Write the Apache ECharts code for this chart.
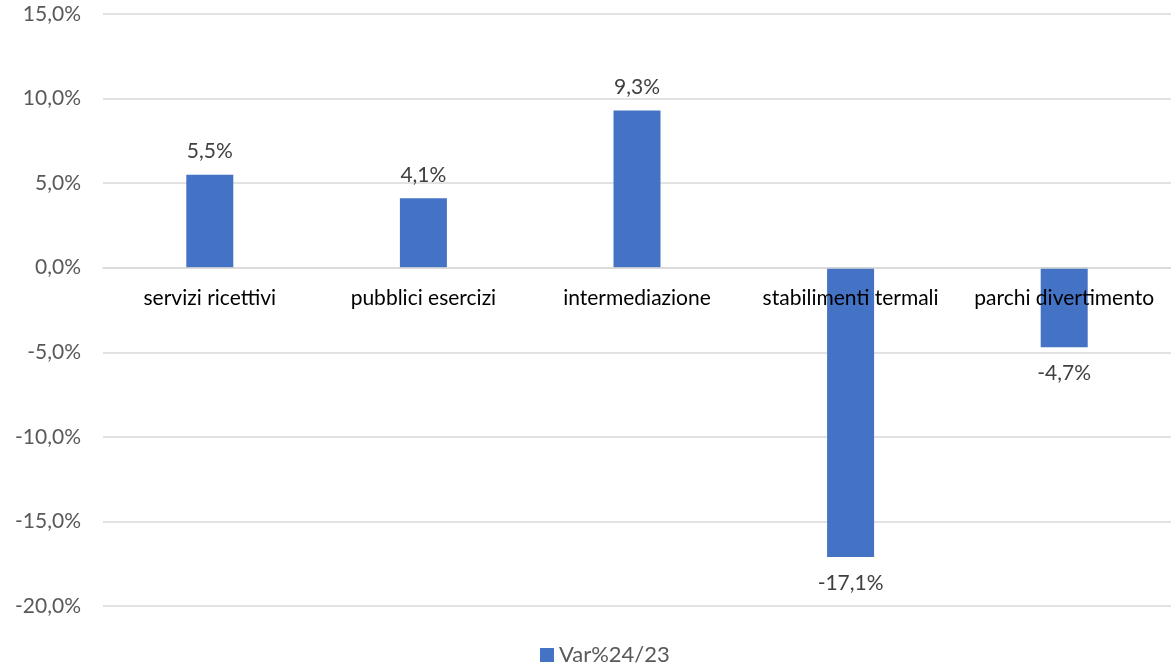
<!DOCTYPE html>
<html><head><meta charset="utf-8">
<script src="https://cdn.jsdelivr.net/npm/echarts@6/dist/echarts.min.js"></script>
<style>html,body{margin:0;padding:0;background:#fff}#c{width:1171px;height:671px}</style>
</head><body><div id="c"></div>
<script>
var categories = ['servizi ricettivi', 'pubblici esercizi', 'intermediazione', 'stabilimenti termali', 'parchi divertimento'];
var seriesName = 'Var%24/23';
var values = [5.5, 4.1, 9.3, -17.1, -4.7];
var yMin = -20, yMax = 15, yStep = 5;

function fmt(v, d) { return v.toFixed(d).replace('.', ',') + '%'; }
var FONT = 'Lato';
var FS = 21;
var chart = echarts.init(document.getElementById('c'));
chart.setOption({
  animation: false,
  textStyle: { fontFamily: FONT },
  grid: { left: 103, right: 0, top: 14, bottom: 65 },
  legend: {
    bottom: 0, left: 535, itemWidth: 14, itemHeight: 14, itemGap: 4,
    icon: 'rect',
    textStyle: { fontFamily: FONT, fontSize: 22, color: '#595959' },
    data: [seriesName]
  },
  xAxis: {
    type: 'category', data: categories, z: 5,
    axisLine: { onZero: false, lineStyle: { color: '#d9d9d9', width: 1.5 } },
    axisTick: { show: false },
    axisLabel: { fontFamily: FONT, fontSize: FS, color: '#000', margin: 20, interval: 0 }
  },
  yAxis: {
    type: 'value', min: yMin, max: yMax, interval: yStep,
    axisLine: { show: false }, axisTick: { show: false },
    splitLine: { lineStyle: { color: '#d9d9d9', width: 1.5 } },
    axisLabel: { fontFamily: FONT, fontSize: FS, color: '#595959', margin: 22, formatter: function (v) { return fmt(v, 1); } }
  },
  series: [{
    name: seriesName, type: 'bar', barWidth: 47,
    itemStyle: { color: '#4472C4' },
    data: values.map(function (v) {
      return { value: v, label: v >= 0 ? { position: 'top', distance: 13 } : { position: 'bottom', distance: 16 } };
    }),
    label: {
      show: true, fontFamily: FONT, fontSize: FS, color: '#404040',
      formatter: function (p) { return fmt(p.value, 1); }
    }
  }]
});
// place the category axis (line + labels) on the zero value
var yZero = chart.convertToPixel({ yAxisIndex: 0 }, 0);
var yBottom = chart.convertToPixel({ yAxisIndex: 0 }, yMin);
chart.setOption({ xAxis: { offset: -(yBottom - yZero) } });
</script></body></html>
